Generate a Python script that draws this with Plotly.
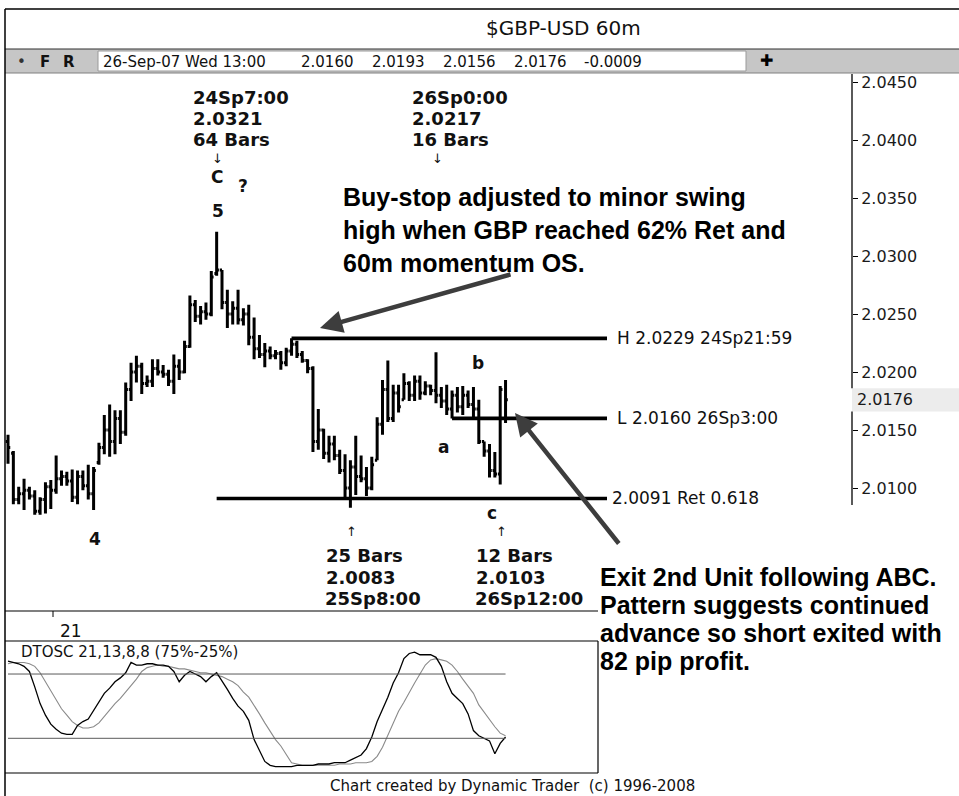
import plotly.graph_objects as go

W, H = 959, 796

# Hourly GBP-USD bars (index 0 .. 93), last bar = 26-Sep-07 Wed 13:00
bar_open = [2.0140, 2.0130, 2.0090, 2.0095, 2.0098, 2.0093, 2.0080, 2.0090, 2.0101, 2.0098,
            2.0108, 2.0110, 2.0106, 2.0092, 2.0110, 2.0102, 2.0095, 2.0122, 2.0135, 2.0150,
            2.0140, 2.0160, 2.0148, 2.0185, 2.0200, 2.0205, 2.0190, 2.0192, 2.0203, 2.0200,
            2.0198, 2.0192, 2.0205, 2.0200, 2.0222, 2.0258, 2.0248, 2.0252, 2.0250, 2.0285,
            2.0288, 2.0260, 2.0250, 2.0255, 2.0245, 2.0250, 2.0230, 2.0220, 2.0215, 2.0218,
            2.0214, 2.0216, 2.0208, 2.0218, 2.0224, 2.0215, 2.0210, 2.0203, 2.0140, 2.0150,
            2.0130, 2.0138, 2.0128, 2.0115, 2.0100, 2.0118, 2.0110, 2.0108, 2.0100, 2.0124,
            2.0155, 2.0185, 2.0160, 2.0182, 2.0176, 2.0190, 2.0180, 2.0192, 2.0182, 2.0188,
            2.0184, 2.0180, 2.0175, 2.0168, 2.0180, 2.0170, 2.0180, 2.0172, 2.0168, 2.0140,
            2.0132, 2.0115, 2.0112, 2.0160]
bar_high = [2.0146, 2.0132, 2.0101, 2.0108, 2.0101, 2.0098, 2.0092, 2.0105, 2.0107, 2.0128,
            2.0115, 2.0114, 2.0116, 2.0115, 2.0115, 2.0120, 2.0118, 2.0139, 2.0163, 2.0172,
            2.0167, 2.0167, 2.0191, 2.0208, 2.0214, 2.0208, 2.0197, 2.0211, 2.0211, 2.0206,
            2.0202, 2.0215, 2.0211, 2.0227, 2.0266, 2.0262, 2.0257, 2.0260, 2.0287, 2.0321,
            2.0288, 2.0271, 2.0261, 2.0271, 2.0255, 2.0258, 2.0247, 2.0232, 2.0225, 2.0222,
            2.0219, 2.0218, 2.0221, 2.0229, 2.0227, 2.0218, 2.0211, 2.0205, 2.0168, 2.0151,
            2.0145, 2.0145, 2.0133, 2.0129, 2.0124, 2.0145, 2.0128, 2.0118, 2.0127, 2.0161,
            2.0193, 2.0210, 2.0189, 2.0189, 2.0199, 2.0192, 2.0197, 2.0197, 2.0192, 2.0189,
            2.0217, 2.0187, 2.0189, 2.0184, 2.0187, 2.0188, 2.0184, 2.0187, 2.0176, 2.0140,
            2.0138, 2.0131, 2.0188, 2.0193]
bar_low = [2.0121, 2.0086, 2.0086, 2.0081, 2.0090, 2.0077, 2.0077, 2.0078, 2.0082, 2.0095,
           2.0102, 2.0102, 2.0088, 2.0086, 2.0098, 2.0090, 2.0081, 2.0120, 2.0129, 2.0127,
           2.0129, 2.0138, 2.0145, 2.0175, 2.0191, 2.0181, 2.0187, 2.0187, 2.0197, 2.0195,
           2.0188, 2.0181, 2.0193, 2.0199, 2.0221, 2.0243, 2.0241, 2.0245, 2.0248, 2.0283,
           2.0254, 2.0238, 2.0241, 2.0241, 2.0240, 2.0223, 2.0211, 2.0212, 2.0204, 2.0211,
           2.0211, 2.0202, 2.0205, 2.0214, 2.0212, 2.0208, 2.0199, 2.0131, 2.0133, 2.0125,
           2.0122, 2.0124, 2.0112, 2.0092, 2.0083, 2.0094, 2.0105, 2.0093, 2.0098, 2.0124,
           2.0146, 2.0157, 2.0157, 2.0165, 2.0176, 2.0175, 2.0175, 2.0176, 2.0180, 2.0180,
           2.0173, 2.0169, 2.0163, 2.0160, 2.0165, 2.0163, 2.0169, 2.0161, 2.0138, 2.0127,
           2.0109, 2.0109, 2.0103, 2.0156]
bar_close = [2.0135, 2.0090, 2.0095, 2.0098, 2.0093, 2.0080, 2.0090, 2.0101, 2.0098, 2.0108,
             2.0110, 2.0106, 2.0092, 2.0110, 2.0102, 2.0095, 2.0115, 2.0135, 2.0150, 2.0140,
             2.0160, 2.0148, 2.0185, 2.0200, 2.0205, 2.0190, 2.0192, 2.0203, 2.0200, 2.0198,
             2.0192, 2.0205, 2.0200, 2.0222, 2.0258, 2.0248, 2.0252, 2.0250, 2.0282, 2.0288,
             2.0260, 2.0250, 2.0255, 2.0245, 2.0250, 2.0230, 2.0220, 2.0215, 2.0218, 2.0214,
             2.0216, 2.0208, 2.0218, 2.0224, 2.0215, 2.0210, 2.0203, 2.0140, 2.0150, 2.0130,
             2.0138, 2.0128, 2.0115, 2.0100, 2.0118, 2.0110, 2.0108, 2.0100, 2.0120, 2.0155,
             2.0185, 2.0160, 2.0182, 2.0170, 2.0190, 2.0180, 2.0192, 2.0182, 2.0188, 2.0184,
             2.0180, 2.0175, 2.0168, 2.0180, 2.0170, 2.0180, 2.0172, 2.0168, 2.0140, 2.0132,
             2.0115, 2.0112, 2.0185, 2.0176]

# DTOSC 21,13,8,8 : fast (black) and slow (grey) lines, one value per bar
osc_fast = [85, 84, 83, 81, 77, 65, 52, 43, 36, 32,
            29, 28, 28, 35, 38, 40, 47, 53, 60, 64,
            69, 72, 76, 84, 82, 82, 83, 83, 82, 82,
            81, 77, 69, 74, 77, 75, 73, 69, 73, 76,
            70, 63, 56, 50, 46, 39, 24, 16, 7, 4,
            3, 3, 3, 3, 4, 4, 4, 4, 5, 5,
            5, 6, 6, 6, 8, 10, 12, 17, 26, 38,
            47, 57, 68, 76, 87, 91, 92, 90, 90, 90,
            88, 81, 69, 60, 56, 52, 44, 31, 27, 25,
            23, 13, 21, 26]
osc_slow = [83, 84, 84, 84, 83, 81, 76, 69, 61, 54,
            48, 43, 38, 35, 33, 33, 34, 37, 42, 47,
            52, 56, 61, 66, 71, 77, 80, 81, 82, 81,
            81, 80, 79, 79, 78, 77, 76, 76, 75, 74,
            73, 71, 69, 66, 61, 57, 51, 44, 37, 30,
            24, 19, 12, 6, 5, 4, 4, 4, 4, 4,
            4, 4, 5, 5, 5, 6, 6, 6, 7, 11,
            18, 27, 37, 46, 53, 61, 68, 75, 82, 86,
            87, 86, 85, 82, 77, 71, 65, 60, 51, 45,
            39, 34, 29, 27]
osc_bands = [75, 25]

price_ticks = [2.0100, 2.0150, 2.0200, 2.0250, 2.0300, 2.0350, 2.0400, 2.0450]

# swing points (bar index) and their time stamps
i_peak, t_peak, bars_peak = 39, "24Sp7:00", 64
i_low_a, t_low_a = 64, "25Sp8:00"
i_high_b, t_high_b = 80, "26Sp0:00"
i_low_c, t_low_c = 92, "26Sp12:00"
i_swing_h, t_swing_h = 53, "24Sp21:59"
i_swing_l, t_swing_l = 83, "26Sp3:00"
ret_level, ret_ratio = 2.0091, 0.618
last_stamp = "26-Sep-07 Wed 13:00"

idx = list(range(len(bar_close)))

# ---- page geometry (pixels) ----
BAR_X0, BAR_DX = 8.0, 5.35          # x pixel of bar 0, pixels per bar
PX_LEFT, PX_AXIS, PX_OSC_R = 5, 852, 598
PY_PRICE_TOP, PY_PRICE_BOT = 74, 611
PY_OSC_TOP, PY_OSC_BOT = 641, 773
P_REF, PY_REF, PX_PER_UNIT = 2.0450, 82, 11600.0
OSC_TOP_VAL, OSC_BOT_VAL = 100.7, -2.0


def fx(x):
    return x / W


def fy(y):
    return 1 - y / H


def bar_index_at(px):
    return (px - BAR_X0) / BAR_DX


def price_at(py):
    return P_REF - (py - PY_REF) / PX_PER_UNIT


FONT = "DejaVu Sans"
BIG = "Liberation Sans"

fig = go.Figure()

fig.add_trace(go.Ohlc(
    x=idx, open=bar_open, high=bar_high, low=bar_low, close=bar_close,
    increasing=dict(line=dict(color="black", width=3)),
    decreasing=dict(line=dict(color="black", width=3)),
    tickwidth=0.42, xaxis="x", yaxis="y", showlegend=False, hoverinfo="skip"))

fig.add_trace(go.Scatter(x=idx, y=osc_slow, mode="lines", xaxis="x2", yaxis="y2",
                         line=dict(color="#8a8a8a", width=1.1), showlegend=False,
                         hoverinfo="skip"))
fig.add_trace(go.Scatter(x=idx, y=osc_fast, mode="lines", xaxis="x2", yaxis="y2",
                         line=dict(color="black", width=1.3), showlegend=False,
                         hoverinfo="skip"))

shapes = []
ann = []


def pline(x0, y0, x1, y1, color="black", width=1):
    shapes.append(dict(type="line", xref="paper", yref="paper", x0=fx(x0), y0=fy(y0),
                       x1=fx(x1), y1=fy(y1), line=dict(color=color, width=width)))


def text(x, y, s, size, family=FONT, bold=False, color="#111111", xanchor="left"):
    ann.append(dict(xref="paper", yref="paper", x=fx(x), y=fy(y), showarrow=False,
                    text=f"<b>{s}</b>" if bold else s, xanchor=xanchor, yanchor="middle",
                    font=dict(family=family, size=size, color=color)))


# window frame, title bar and quote bar
shapes.append(dict(type="rect", xref="paper", yref="paper", x0=fx(PX_LEFT), x1=1,
                   y0=fy(73), y1=fy(49), fillcolor="#c6c6c6", line=dict(width=0), layer="below"))
shapes.append(dict(type="rect", xref="paper", yref="paper", x0=fx(98), x1=fx(746),
                   y0=fy(71), y1=fy(51), fillcolor="white",
                   line=dict(color="#9a9a9a", width=1), layer="below"))
pline(PX_LEFT, 9, W, 9, width=1.5)
pline(PX_LEFT, 49, W, 49, "#303030", 1.2)
pline(PX_LEFT, 73, W, 73, "#808080", 1)
pline(PX_LEFT, 9, PX_LEFT, H, width=1.5)
# price panel bottom, time strip, oscillator box
pline(PX_LEFT, PY_PRICE_BOT, PX_OSC_R, PY_PRICE_BOT, width=1.2)
pline(PX_LEFT, PY_OSC_TOP, PX_OSC_R, PY_OSC_TOP, width=1.2)
pline(PX_LEFT, PY_OSC_BOT, PX_OSC_R, PY_OSC_BOT, width=1.2)
pline(PX_OSC_R, PY_OSC_TOP, PX_OSC_R, PY_OSC_BOT, width=1.2)
pline(53, PY_PRICE_BOT, 53, 617, width=1)

text(484, 28, "$GBP-USD 60m", 20)
text(15, 62, "•", 15, color="#333333")
text(38, 62, "F", 15, bold=True)
text(61, 62, "R", 15, bold=True)
chg = bar_close[-1] - bar_close[-2]
quote = [(101, last_stamp), (299, f"{bar_open[-1]:.4f}"), (370, f"{bar_high[-1]:.4f}"),
         (441, f"{bar_low[-1]:.4f}"), (512, f"{bar_close[-1]:.4f}"), (582, f"{chg:.4f}")]
for qx, qs in quote:
    text(qx, 62, qs, 15)
text(766, 61, "✚", 16, color="black", xanchor="center")

# right price axis line (broken by the last-price box)
last = bar_close[-1]
box_half = 0.00100
shapes.append(dict(type="line", xref="paper", yref="y", x0=fx(PX_AXIS), x1=fx(PX_AXIS),
                   y0=last + box_half, y1=price_at(PY_PRICE_TOP), line=dict(color="black", width=1.3)))
shapes.append(dict(type="line", xref="paper", yref="y", x0=fx(PX_AXIS), x1=fx(PX_AXIS),
                   y0=price_at(505), y1=last - box_half, line=dict(color="black", width=1.3)))
shapes.append(dict(type="rect", xref="paper", yref="y", x0=fx(PX_AXIS), x1=1,
                   y0=last - box_half, y1=last + box_half, fillcolor="#ececec",
                   line=dict(width=0), layer="below"))
ann.append(dict(xref="paper", yref="y", x=fx(PX_AXIS + 3), y=last, text=f"{last:.4f}",
                showarrow=False, xanchor="left", yanchor="middle",
                font=dict(family=FONT, size=16, color="#1a1a1a")))

# horizontal price levels
x_end = bar_index_at(607)
h_level = bar_high[i_swing_h]
l_level = bar_low[i_swing_l]
for x0, lvl in [(i_swing_h, h_level), (i_swing_l, l_level), (i_peak, ret_level)]:
    shapes.append(dict(type="line", xref="x", yref="y", x0=x0, x1=x_end, y0=lvl, y1=lvl,
                       line=dict(color="black", width=3.6)))
for lx, lvl, s in [(615, h_level, f"H {h_level:.4f} {t_swing_h}"),
                   (615, l_level, f"L {l_level:.4f} {t_swing_l}"),
                   (610, ret_level, f"{ret_level:.4f} Ret {ret_ratio}")]:
    ann.append(dict(xref="paper", yref="y", x=fx(lx), y=lvl, text=s, showarrow=False,
                    xanchor="left", yanchor="middle",
                    font=dict(family=FONT, size=17, color="#111111")))

# oscillator 75% / 25% bands
for b in osc_bands:
    shapes.append(dict(type="line", xref="x2", yref="y2", x0=idx[0], x1=idx[-1], y0=b, y1=b,
                       line=dict(color="#5a5a5a", width=1)))

# swing time / price / bar-count labels
def bx(i):
    return BAR_X0 + BAR_DX * i


top_labels = [(i_peak, t_peak, bar_high[i_peak], bars_peak),
              (i_high_b, t_high_b, bar_high[i_high_b], i_high_b - i_low_a)]
for i, t, p, n in top_labels:
    left = bx(i) - 26
    text(left, 97, t, 18, bold=True)
    text(left, 118, f"{p:.4f}", 18, bold=True)
    text(left, 139, f"{n} Bars", 18, bold=True)
    text(bx(i) + 1, 158, "↓", 13, xanchor="center")

bottom_labels = [(i_low_a, t_low_a, bar_low[i_low_a], i_low_a - i_peak),
                 (i_low_c, t_low_c, bar_low[i_low_c], i_low_c - i_high_b)]
for i, t, p, n in bottom_labels:
    left = bx(i) - 26
    text(bx(i) + 1, 531, "↑", 13, xanchor="center")
    text(left, 555, f"{n} Bars", 18, bold=True)
    text(left, 577, f"{p:.4f}", 18, bold=True)
    text(left - 1, 598, t, 18, bold=True)

# wave labels
for x, y, s in [(217, 177, "C"), (243, 186, "?"), (218, 211, "5"), (95, 539, "4"),
                (443, 447, "a"), (478, 363, "b"), (492, 513, "c")]:
    text(x, y, s, 17, bold=True, xanchor="center")

text(58, 631, "21", 17)
text(19, 652, "DTOSC 21,13,8,8 (75%-25%)", 15)
text(512, 786, "Chart created by Dynamic Trader  (c) 1996-2008", 15, xanchor="center")

# commentary
for k, s in enumerate(["Buy-stop adjusted to minor swing",
                       "high when GBP reached 62% Ret and",
                       "60m momentum OS."]):
    text(341, 197 + 33 * k, s, 25, family=BIG, bold=True, color="black")
for k, s in enumerate(["Exit 2nd Unit following ABC.",
                       "Pattern suggests continued",
                       "advance so short exited with",
                       "82 pip profit."]):
    text(598, 577 + 28 * k, s, 25, family=BIG, bold=True, color="black")

for hx, hy, tx, ty in [(320, 328, 512, 274), (515, 413, 620, 545)]:
    ann.append(dict(xref="paper", yref="paper", x=fx(hx), y=fy(hy), ax=tx - hx, ay=ty - hy,
                    axref="pixel", ayref="pixel", text="", showarrow=True, arrowhead=2,
                    arrowsize=1.0, arrowwidth=4.5, arrowcolor="#3d3d3d", standoff=0))

fig.update_layout(
    width=W, height=H, margin=dict(l=0, r=0, t=0, b=0), autosize=False,
    paper_bgcolor="white", plot_bgcolor="white", showlegend=False,
    shapes=shapes, annotations=ann,
    xaxis=dict(domain=[fx(PX_LEFT), fx(PX_AXIS)],
               range=[bar_index_at(PX_LEFT), bar_index_at(PX_AXIS)],
               visible=False, rangeslider=dict(visible=False), fixedrange=True),
    yaxis=dict(domain=[fy(PY_PRICE_BOT), fy(PY_PRICE_TOP)],
               range=[price_at(PY_PRICE_BOT), price_at(PY_PRICE_TOP)],
               side="right", anchor="x", showgrid=False, zeroline=False, showline=False,
               tickmode="array", tickvals=price_ticks,
               ticktext=[f"{v:.4f}" for v in price_ticks],
               ticks="outside", ticklen=5, tickcolor="black", tickwidth=1,
               tickfont=dict(family=FONT, size=16, color="#1a1a1a"), fixedrange=True),
    xaxis2=dict(domain=[fx(PX_LEFT), fx(PX_OSC_R)],
                range=[bar_index_at(PX_LEFT), bar_index_at(PX_OSC_R)],
                anchor="y2", visible=False, fixedrange=True),
    yaxis2=dict(domain=[fy(PY_OSC_BOT), fy(PY_OSC_TOP)], range=[OSC_BOT_VAL, OSC_TOP_VAL],
                anchor="x2", visible=False, fixedrange=True),
)

fig.write_html("out.html")
